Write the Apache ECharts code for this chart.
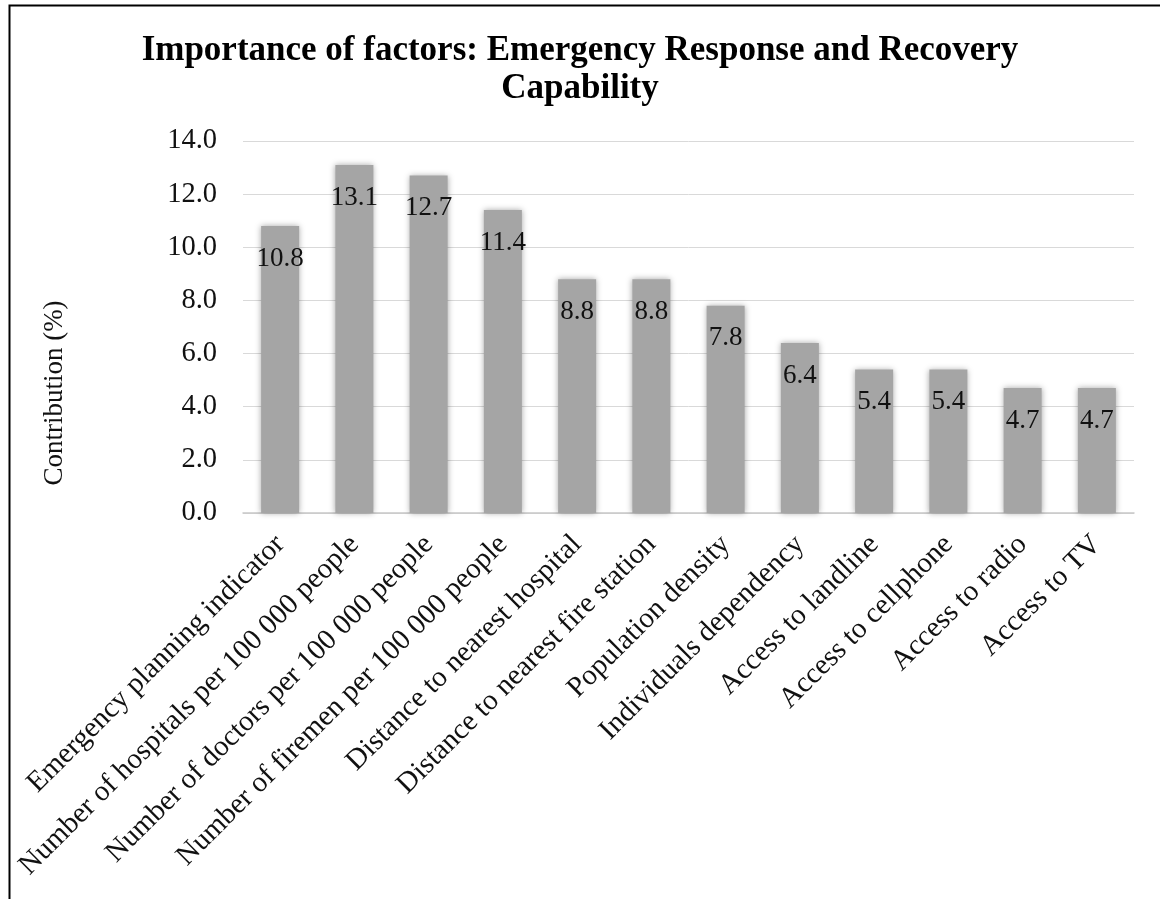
<!DOCTYPE html>
<html>
<head>
<meta charset="utf-8">
<script src="https://cdn.jsdelivr.net/npm/echarts@6/dist/echarts.min.js"></script>
<style>
  html, body { margin: 0; padding: 0; background: #fff; }
  #chart { width: 1160px; height: 899px; }
</style>
</head>
<body>
<div id="chart"></div>
<script>
// chart data
const factors = [
  'Emergency planning indicator',
  'Number of hospitals per 100 000 people',
  'Number of doctors per 100 000 people',
  'Number of firemen per 100 000 people',
  'Distance to nearest hospital',
  'Distance to nearest fire station',
  'Population density',
  'Individuals dependency',
  'Access to landline',
  'Access to cellphone',
  'Access to radio',
  'Access to TV'
];
const contribution = [10.8, 13.1, 12.7, 11.4, 8.8, 8.8, 7.8, 6.4, 5.4, 5.4, 4.7, 4.7];

const serif = '"Liberation Serif", "Times New Roman", serif';

const chart = echarts.init(document.getElementById('chart'));

chart.setOption({
  animation: false,
  backgroundColor: '#fff',
  title: {
    text: 'Importance of factors: Emergency Response and Recovery\nCapability',
    left: 'center',
    top: 27,
    textStyle: {
      fontFamily: serif,
      fontWeight: 'bold',
      fontSize: 35,
      lineHeight: 38,
      color: '#000'
    }
  },
  graphic: [
    {
      type: 'rect',
      shape: { x: 9.5, y: 5.5, width: 1200, height: 1000 },
      style: { fill: 'none', stroke: '#000', lineWidth: 2 },
      silent: true
    },
    {
      type: 'text',
      x: 55,
      y: 393,
      rotation: Math.PI / 2,
      style: {
        text: 'Contribution (%)',
        fontFamily: serif,
        fontSize: 27,
        fill: '#111',
        align: 'center',
        verticalAlign: 'middle'
      }
    }
  ],
  grid: { left: 243, right: 26, top: 141, bottom: 386 },
  xAxis: {
    type: 'category',
    data: factors,
    axisLine: { lineStyle: { color: '#c8c8c8', width: 1.5 } },
    axisTick: { show: false },
    axisLabel: {
      rotate: 45,
      interval: 0,
      margin: 27,
      fontFamily: serif,
      fontSize: 29,
      color: '#111'
    }
  },
  yAxis: {
    type: 'value',
    min: 0,
    max: 14,
    interval: 2,
    axisLine: { show: false },
    axisTick: { show: false },
    splitLine: { lineStyle: { color: '#d9d9d9', width: 1 } },
    axisLabel: {
      margin: 26,
      fontFamily: serif,
      fontSize: 28.5,
      color: '#111',
      formatter: v => v.toFixed(1)
    }
  },
  series: [
    {
      type: 'bar',
      data: contribution,
      barWidth: 38,
      itemStyle: {
        color: '#a5a5a5',
        shadowBlur: 6,
        shadowColor: 'rgba(0,0,0,0.35)'
      },
      label: {
        show: true,
        position: 'insideTop',
        distance: 19,
        fontFamily: serif,
        fontSize: 27,
        color: '#111',
        formatter: p => p.value.toFixed(1)
      }
    }
  ]
});
</script>
</body>
</html>
